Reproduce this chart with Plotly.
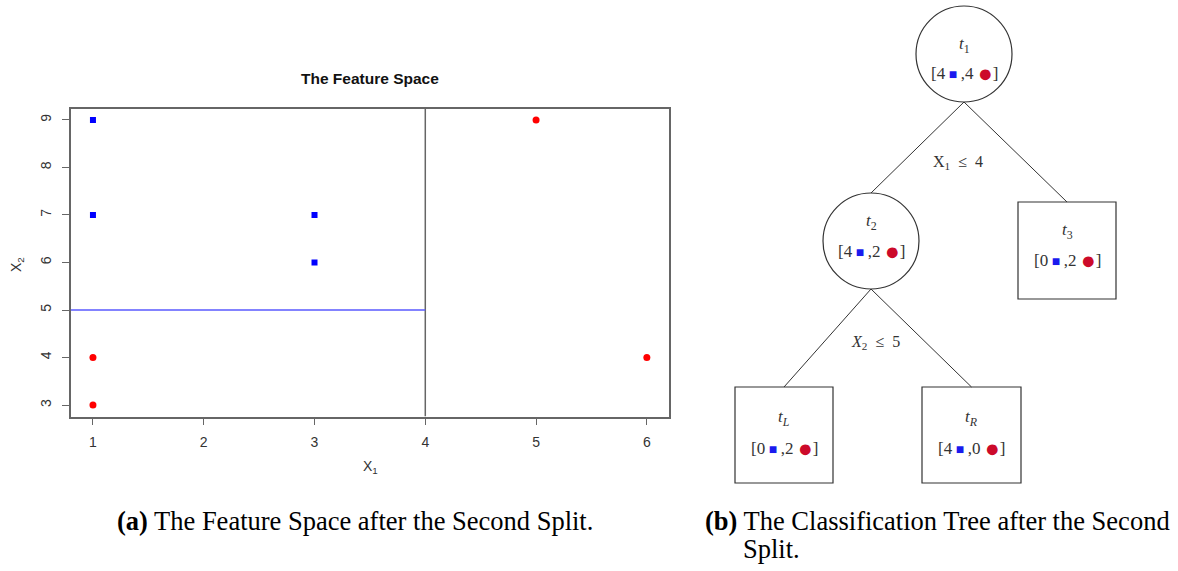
import plotly.graph_objects as go

# ---------------- data ----------------
blue_x = [1, 1, 3, 3]
blue_y = [9, 7, 7, 6]
red_x = [1, 1, 5, 6]
red_y = [4, 3, 9, 4]
split_x1 = 4
split_x2 = 5
x_ticks = [1, 2, 3, 4, 5, 6]
y_ticks = [3, 4, 5, 6, 7, 8, 9]

node_names = ["t1", "t2", "t3", "tL", "tR"]
node_labels = ["<i>t</i><sub>1</sub>", "<i>t</i><sub>2</sub>", "<i>t</i><sub>3</sub>",
               "<i>t</i><sub><i>L</i></sub>", "<i>t</i><sub><i>R</i></sub>"]
node_blue = [4, 4, 0, 0, 4]
node_red = [4, 2, 2, 2, 0]
edges = [("t1", "t2"), ("t1", "t3"), ("t2", "tL"), ("t2", "tR")]
split_labels = ["X<sub>1</sub>  \u2264  4", "<i>X</i><sub>2</sub>  \u2264  5"]

title_text = "The Feature Space"
xlab = "X<sub>1</sub>"
ylab = "X<sub>2</sub>"
cap_a = "<b>(a)</b> The Feature Space after the Second Split."
cap_b1 = "<b>(b)</b> The Classification Tree after the Second"
cap_b2 = "Split."

# ---------------- layout (positions in pixels) ----------------
W, H = 1178, 571
# node geometry: shape, cx, cy, half-width, half-height, label dy, counts dy
node_geom = {
    "t1": ("circle", 964, 54, 48, 48, -9, 19),
    "t2": ("circle", 871, 241, 48, 48, -19, 10),
    "t3": ("box", 1067, 250.5, 49, 48.5, -20, 10),
    "tL": ("box", 784, 435, 49, 48, -17, 13),
    "tR": ("box", 971.5, 435, 49.5, 48, -17, 13),
}
split_pos = [(958, 162), (875, 342)]

def px(x0, x1):
    return [x0 / W, x1 / W]

def py(top, bottom):
    return [1 - bottom / H, 1 - top / H]

xr = [x_ticks[0] - 0.04 * (x_ticks[-1] - x_ticks[0]), x_ticks[-1] + 0.04 * (x_ticks[-1] - x_ticks[0])]
yr = [y_ticks[0] - 0.04 * (y_ticks[-1] - y_ticks[0]), y_ticks[-1] + 0.04 * (y_ticks[-1] - y_ticks[0])]

fig = go.Figure()
fig.add_trace(go.Scatter(x=blue_x, y=blue_y, mode="markers",
                         marker=dict(symbol="square", size=6, color="#0000ff"),
                         xaxis="x", yaxis="y", showlegend=False, hoverinfo="skip"))
fig.add_trace(go.Scatter(x=red_x, y=red_y, mode="markers",
                         marker=dict(symbol="circle", size=7, color="#ff0000"),
                         xaxis="x", yaxis="y", showlegend=False, hoverinfo="skip"))

shapes = []
annotations = []
# split lines
shapes.append(dict(type="line", xref="x", yref="y", x0=split_x1, x1=split_x1, y0=yr[0], y1=yr[1],
                   line=dict(color="#666666", width=1.5), layer="above"))
shapes.append(dict(type="line", xref="x", yref="y", x0=xr[0], x1=split_x1, y0=split_x2, y1=split_x2,
                   line=dict(color="#5a5aff", width=1.5), layer="above"))

ax_font = dict(family="Liberation Sans, Arial, sans-serif", size=14, color="#333333")
annotations.append(dict(xref="x2", yref="y2", x=370, y=78, text="<b>" + title_text + "</b>",
                        showarrow=False, font=dict(family="Liberation Sans, Arial, sans-serif", size=15.5, color="#111111")))
annotations.append(dict(xref="x2", yref="y2", x=370, y=467, text=xlab, showarrow=False, font=ax_font))
annotations.append(dict(xref="x2", yref="y2", x=17, y=265, text=ylab, showarrow=False, textangle=-90, font=ax_font))

# tree
serif = "Liberation Serif, Times New Roman, serif"
for a, b in edges:
    sa = node_geom[a]
    sb = node_geom[b]
    shapes.append(dict(type="line", xref="x2", yref="y2", x0=sa[1], y0=sa[2] + sa[4], x1=sb[1], y1=sb[2] - sb[4],
                       line=dict(color="#333333", width=1)))
for name, lab, nb, nr in zip(node_names, node_labels, node_blue, node_red):
    shp, cx, cy, hw, hh, ldy, cdy = node_geom[name]
    shapes.append(dict(type="circle" if shp == "circle" else "rect", xref="x2", yref="y2",
                       x0=cx - hw, x1=cx + hw, y0=cy - hh, y1=cy + hh,
                       line=dict(color="#333333", width=1.2), fillcolor="rgba(0,0,0,0)"))
    annotations.append(dict(xref="x2", yref="y2", x=cx, y=cy + ldy, text=lab, showarrow=False,
                            font=dict(family=serif, size=17, color="#333333")))
    txt = ("[%d<span style='color:#1a1aee;font-size:14px'> \u25A0 </span>,%d "
           "<span style='color:#cc0a2a;font-size:25px;baseline-shift:-3px'>\u25CF</span>]") % (nb, nr)
    annotations.append(dict(xref="x2", yref="y2", x=cx, y=cy + cdy, text=txt, showarrow=False,
                            font=dict(family=serif, size=17, color="#333333")))
for (sx, sy), st in zip(split_pos, split_labels):
    annotations.append(dict(xref="x2", yref="y2", x=sx, y=sy, text=st, showarrow=False,
                            font=dict(family=serif, size=16, color="#333333")))

# captions
cap_font = dict(family=serif, size=26.5, color="#000000")
annotations.append(dict(xref="x2", yref="y2", x=355, y=521, text=cap_a, showarrow=False, font=cap_font))
annotations.append(dict(xref="x2", yref="y2", x=703, y=521, xanchor="left", text=cap_b1, showarrow=False, font=cap_font))
annotations.append(dict(xref="x2", yref="y2", x=741, y=549, xanchor="left", text=cap_b2, showarrow=False, font=cap_font))

fig.update_layout(
    width=W, height=H, margin=dict(l=0, r=0, t=0, b=0),
    paper_bgcolor="white", plot_bgcolor="rgba(0,0,0,0)", showlegend=False,
    xaxis=dict(domain=px(70.8, 669), range=xr, tickvals=x_ticks, ticks="outside", ticklen=7,
               tickcolor="#666666", showline=True, mirror=True, linecolor="#666666", linewidth=1.5,
               showgrid=False, zeroline=False, tickfont=ax_font, ticklabelstandoff=5, anchor="y"),
    yaxis=dict(domain=py(108.5, 416.5), range=yr, tickvals=y_ticks, ticks="outside", ticklen=7,
               tickcolor="#666666", showline=True, mirror=True, linecolor="#666666", linewidth=1.5,
               showgrid=False, zeroline=False, tickfont=ax_font, tickangle=-90, ticklabelstandoff=5, anchor="x"),
    xaxis2=dict(domain=[0, 1], range=[0, W], visible=False, anchor="y2"),
    yaxis2=dict(domain=[0, 1], range=[H, 0], visible=False, anchor="x2"),
    shapes=shapes, annotations=annotations,
)
fig.write_html("out.html")
